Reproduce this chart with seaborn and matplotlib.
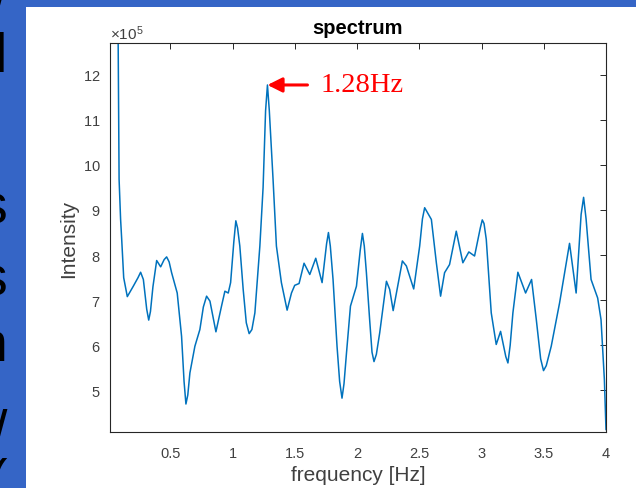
#!/usr/bin/env python3
"""
Spectrum plot with the 1.28 Hz peak marked (MATLAB-like look)
"""

import matplotlib
matplotlib.use('Agg')
import matplotlib.pyplot as plt
import seaborn as sns
import numpy as np

# traced spectrum, frequency in Hz and intensity in units of 1e5
freq = [0.075, 0.088, 0.100, 0.109, 0.125, 0.154, 0.202, 0.240, 0.261, 0.283,
        0.310, 0.326, 0.340, 0.360, 0.390, 0.422, 0.450, 0.470, 0.490, 0.510,
        0.555, 0.590, 0.610, 0.625, 0.640, 0.657, 0.697, 0.737, 0.765, 0.791,
        0.818, 0.866, 0.911, 0.938, 0.965, 0.984, 1.010, 1.026, 1.040, 1.058,
        1.085, 1.110, 1.133, 1.155, 1.179, 1.219, 1.245, 1.265, 1.280, 1.295,
        1.325, 1.352, 1.392, 1.438, 1.473, 1.499, 1.534, 1.574, 1.620, 1.668,
        1.719, 1.755, 1.770, 1.785, 1.807, 1.839, 1.860, 1.879, 1.895, 1.915,
        1.947, 1.995, 2.025, 2.043, 2.058, 2.075, 2.101, 2.120, 2.136, 2.155,
        2.182, 2.236, 2.262, 2.290, 2.364, 2.396, 2.455, 2.503, 2.525, 2.543,
        2.597, 2.637, 2.671, 2.703, 2.743, 2.797, 2.850, 2.898, 2.944, 2.990,
        3.006, 3.020, 3.038, 3.078, 3.118, 3.153, 3.195, 3.212, 3.230, 3.252,
        3.292, 3.354, 3.402, 3.440, 3.475, 3.498, 3.520, 3.560, 3.627, 3.654,
        3.707, 3.760, 3.800, 3.820, 3.840, 3.880, 3.933, 3.960, 3.987, 4.000]
intensity = [15.0, 9.68, 8.80, 8.35, 7.50, 7.08, 7.31, 7.50, 7.62, 7.46,
             6.80, 6.56, 6.75, 7.30, 7.88, 7.74, 7.90, 7.96, 7.85, 7.61,
             7.16, 6.20, 5.20, 4.70, 4.90, 5.39, 5.98, 6.35, 6.85, 7.09,
             6.98, 6.30, 6.87, 7.20, 7.16, 7.39, 8.30, 8.76, 8.60, 8.20,
             7.24, 6.50, 6.26, 6.35, 6.72, 8.20, 9.50, 11.20, 11.77, 11.20,
             9.68, 8.20, 7.39, 6.78, 7.16, 7.33, 7.37, 7.82, 7.57, 7.93,
             7.39, 8.25, 8.50, 8.20, 7.46, 5.98, 5.20, 4.83, 5.15, 5.83,
             6.87, 7.31, 8.10, 8.48, 8.20, 7.61, 6.57, 5.85, 5.64, 5.80,
             6.28, 7.42, 7.24, 6.77, 7.87, 7.76, 7.25, 8.20, 8.80, 9.05,
             8.79, 7.83, 7.09, 7.61, 7.79, 8.53, 7.83, 8.07, 7.98, 8.60,
             8.78, 8.70, 8.35, 6.72, 6.02, 6.31, 5.75, 5.61, 6.00, 6.72,
             7.62, 7.16, 7.46, 6.57, 5.70, 5.44, 5.55, 5.98, 6.94, 7.39,
             8.26, 7.16, 8.90, 9.28, 8.80, 7.46, 7.05, 6.57, 5.24, 4.13]

peak_freq = 1.28
peak_label = '1.28Hz'

x_ticks = [0.5, 1, 1.5, 2, 2.5, 3, 3.5, 4]
x_tick_labels = ['0.5', '1', '1.5', '2', '2.5', '3', '3.5', '4']
y_ticks = [5, 6, 7, 8, 9, 10, 11, 12]

# bits of slide text cut off at the left edge (pixel rows from the top)
slide_chars = ['/', 'l', 's', 's', 'n', '/', '(']
slide_char_rows = [4, 58, 210, 282, 347, 435, 484]

sns.set_style('white')
plt.rcParams['font.family'] = ['Liberation Sans', 'DejaVu Sans']
plt.rcParams['mathtext.fontset'] = 'custom'
plt.rcParams['mathtext.rm'] = 'Liberation Sans'

MATLAB_BLUE = '#0072BD'
AX_GRAY = '#262626'
LABEL_GRAY = '#404040'

fig = plt.figure(figsize=(6.36, 4.89), dpi=100)
fig.patch.set_facecolor('#3565C6')

# white panel of the slide, behind everything
panel = plt.Rectangle((26 / 636, 0), 1, (489 - 7.5) / 489, transform=fig.transFigure,
                      facecolor='white', edgecolor='none', zorder=-10)
fig.patches.append(panel)

for ch, row in zip(slide_chars, slide_char_rows):
    fig.text(7 / 636, 1 - row / 489, ch, ha='right', va='center', fontsize=40,
             color='black')

ax = fig.add_axes([110 / 636, (489 - 433) / 489, 496 / 636, 389 / 489])
ax.set_facecolor('white')

y_vals = np.array(intensity) * 1e5
sns.lineplot(x=freq, y=y_vals, ax=ax, color=MATLAB_BLUE, linewidth=1.1,
             estimator=None, sort=False)

ax.set_xlim(0.015, 4.0)
ax.set_ylim(4.08e5, 12.7e5)
ax.set_xticks(x_ticks)
ax.set_xticklabels(x_tick_labels)
ax.set_yticks([v * 1e5 for v in y_ticks])
# fixed x10^5 multiplier like MATLAB
ax.ticklabel_format(axis='y', style='sci', scilimits=(5, 5), useMathText=True)
ax.yaxis.get_offset_text().set_fontsize(11)
ax.yaxis.get_offset_text().set_color(LABEL_GRAY)

ax.tick_params(direction='in', length=4, width=0.7, colors=AX_GRAY,
               labelcolor=LABEL_GRAY, labelsize=10.5, top=True, right=True, pad=7)
ax.tick_params(axis='x', pad=10)
for sp in ax.spines.values():
    sp.set_visible(True)
    sp.set_color(AX_GRAY)
    sp.set_linewidth(0.8)

ax.set_xlabel('frequency [Hz]', fontsize=15, color=LABEL_GRAY, labelpad=4)
ax.set_ylabel('Intensity', fontsize=15, color=LABEL_GRAY, labelpad=3)
ax.set_title('spectrum', fontsize=14.5, fontweight='bold', color='black', pad=7)

peak_val = y_vals[freq.index(peak_freq)]
ax.annotate(peak_label, xy=(peak_freq, peak_val), xytext=(1.706, peak_val),
            ha='left', va='center', color='red', fontsize=20.5,
            family=['Liberation Serif', 'DejaVu Serif'],
            arrowprops=dict(arrowstyle='-|>', color='red', lw=2.2,
                            mutation_scale=22, shrinkA=7, shrinkB=0))

fig.savefig('out.png', dpi=100, facecolor=fig.get_facecolor())
